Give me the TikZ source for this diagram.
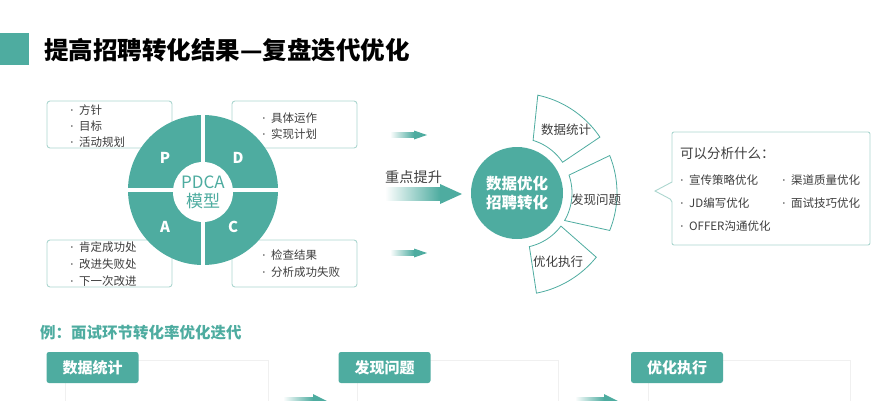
\documentclass[tikz,border=0pt]{standalone}
\usepackage{fontspec}
\setmainfont{Noto Sans CJK SC}
\newfontfamily\dvfont{DejaVu Sans}
\definecolor{tl}{RGB}{78,172,160}
\definecolor{bd}{RGB}{172,214,207}
\definecolor{tx}{RGB}{62,62,62}
\newcommand\bul{\makebox[9pt][l]{\dvfont ·}}
\newcommand\garrow[6]{%
  \shade[left color=white, right color=tl] (#1,#3-#4) rectangle (#2-#6,#3+#4);
  \fill[tl] (#2-#6,#3-#5) -- (#2,#3) -- (#2-#6,#3+#5) -- cycle;}
\begin{document}
\begin{tikzpicture}[x=1pt,y=-1pt,
  infobox/.style={draw=bd, line width=0.9pt, rounded corners=3pt, fill=white, minimum width=125pt, minimum height=47pt},
  item/.style={font=\fontsize{11.5}{13}\selectfont, text=tx, anchor=west, inner sep=0pt},
  ritem/.style={font=\fontsize{11.5}{13}\selectfont, text=tx, anchor=west, inner sep=0pt},
  seg/.style={draw=tl, line width=0.8pt, fill=white},
  seglab/.style={font=\fontsize{12.5}{14}\selectfont, text=tx, inner sep=0pt},
  wl/.style={text=white, font=\bfseries\fontsize{15}{17}\selectfont, inner sep=0pt},
  tag/.style={fill=tl, rounded corners=2.5pt, text=white, font=\bfseries\fontsize{15}{17}\selectfont, minimum width=92pt, minimum height=31pt, inner sep=0pt},
  card/.style={draw=black!6, line width=0.8pt, fill=white}]
\useasboundingbox (0,0) rectangle (889,400);
\clip (0,0) rectangle (889,400);
% title
\fill[tl] (0,33) rectangle (29,65);
\node[anchor=west, inner sep=0pt, font=\bfseries\fontsize{24.5}{28}\selectfont] (title) at (44,50) {提高招聘转化结果—复盘迭代优化};
% PDCA boxes
\node[infobox] (bP) at (109.5,124.5) {};
\node[infobox] (bD) at (294.5,124.5) {};
\node[infobox] (bA) at (109.5,263.5) {};
\node[infobox] (bC) at (294.5,263.5) {};
\node[item] (p1) at (70,110) {\bul 方针};
\node[item] (p2) at (70,126) {\bul 目标};
\node[item] (p3) at (70,142) {\bul 活动规划};
\node[item] (d1) at (262,118) {\bul 具体运作};
\node[item] (d2) at (262,134) {\bul 实现计划};
\node[item] (a1) at (70,247) {\bul 肯定成功处};
\node[item] (a2) at (70,264) {\bul 改进失败处};
\node[item] (a3) at (70,281) {\bul 下一次改进};
\node[item] (c1) at (262,255) {\bul 检查结果};
\node[item] (c2) at (262,272) {\bul 分析成功失败};
% wheel
\fill[tl] (203,190) circle[radius=75];
\draw[white, line width=4pt] (126,190) -- (280,190);
\draw[white, line width=4pt] (203,113) -- (203,267);
\node[circle, fill=white, minimum size=60pt, inner sep=0pt, text=tl, align=center, font=\fontsize{17}{19}\selectfont] (pdca) at (203,192) {PDCA\\模型};
\node[wl] (lP) at (165,158) {P};
\node[wl] (lD) at (238,158) {D};
\node[wl] (lA) at (165,227) {A};
\node[wl] (lC) at (233,227) {C};
% middle arrows
\garrow{390}{427}{135}{2.2}{4.5}{13}
\garrow{385}{462}{194}{6.5}{10}{22}
\garrow{390}{427}{253}{2.2}{4.5}{13}
\node[anchor=west, inner sep=0pt, text=tx, font=\fontsize{14.2}{16}\selectfont] (focus) at (385,177) {重点提升};
% core circle and segments
\node[circle, fill=tl, minimum size=92pt, inner sep=0pt, text=white, align=center, font=\bfseries\fontsize{15.5}{19}\selectfont] (core) at (517,193) {数据优化\\招聘转化};
\draw[seg] plot[domain=-78:-34, samples=30] ({517+100*cos(\x)},{193+100*sin(\x)}) -- plot[domain=-34:-73, samples=30] ({517+55*cos(\x)},{193+55*sin(\x)}) -- cycle;
\draw[seg] plot[domain=-22:22, samples=30] ({517+100*cos(\x)},{193+100*sin(\x)}) -- plot[domain=30:-19, samples=30] ({517+55*cos(\x)},{193+55*sin(\x)}) -- cycle;
\draw[seg] plot[domain=39:79, samples=30] ({517+102*cos(\x)},{193+102*sin(\x)}) -- plot[domain=77:37, samples=30] ({517+55*cos(\x)},{193+55*sin(\x)}) -- cycle;
\node[seglab] (s1) at (566,130) {数据统计};
\node[seglab] (s2) at (596,200) {发现问题};
\node[seglab] (s3) at (558,262) {优化执行};
% callout
\draw[draw=bd, line width=0.9pt, fill=white, rounded corners=2pt] (672,132) -- (870,132) -- (870,245) -- (672,245) -- (672,200) [sharp corners] -- (655,191) -- (672,182) [rounded corners=2pt] -- cycle;
\node[anchor=west, inner sep=0pt, text=tx, font=\fontsize{13.5}{15}\selectfont] (q) at (680,153) {可以分析什么：};
\node[ritem] (r1) at (680,180) {\bul 宣传策略优化};
\node[ritem] (r2) at (782,180) {\bul 渠道质量优化};
\node[ritem] (r3) at (680,203) {\bul JD编写优化};
\node[ritem] (r4) at (782,203) {\bul 面试技巧优化};
\node[ritem] (r5) at (680,226) {\bul OFFER沟通优化};
% example
\node[anchor=west, inner sep=0pt, text=tl, font=\bfseries\fontsize{15.5}{17}\selectfont] (ex) at (40,333) {例：面试环节转化率优化迭代};
\draw[card] (65,360) rectangle (268,430);
\draw[card] (357,360) rectangle (558,430);
\draw[card] (648,360) rectangle (850,430);
\node[tag] (t1) at (92.5,367.5) {数据统计};
\node[tag] (t2) at (384.5,367.5) {发现问题};
\node[tag] (t3) at (677,367.5) {优化执行};
\garrow{283}{327}{401}{4}{7}{14}
\garrow{575}{618}{401}{4}{7}{14}
\end{tikzpicture}
\end{document}
